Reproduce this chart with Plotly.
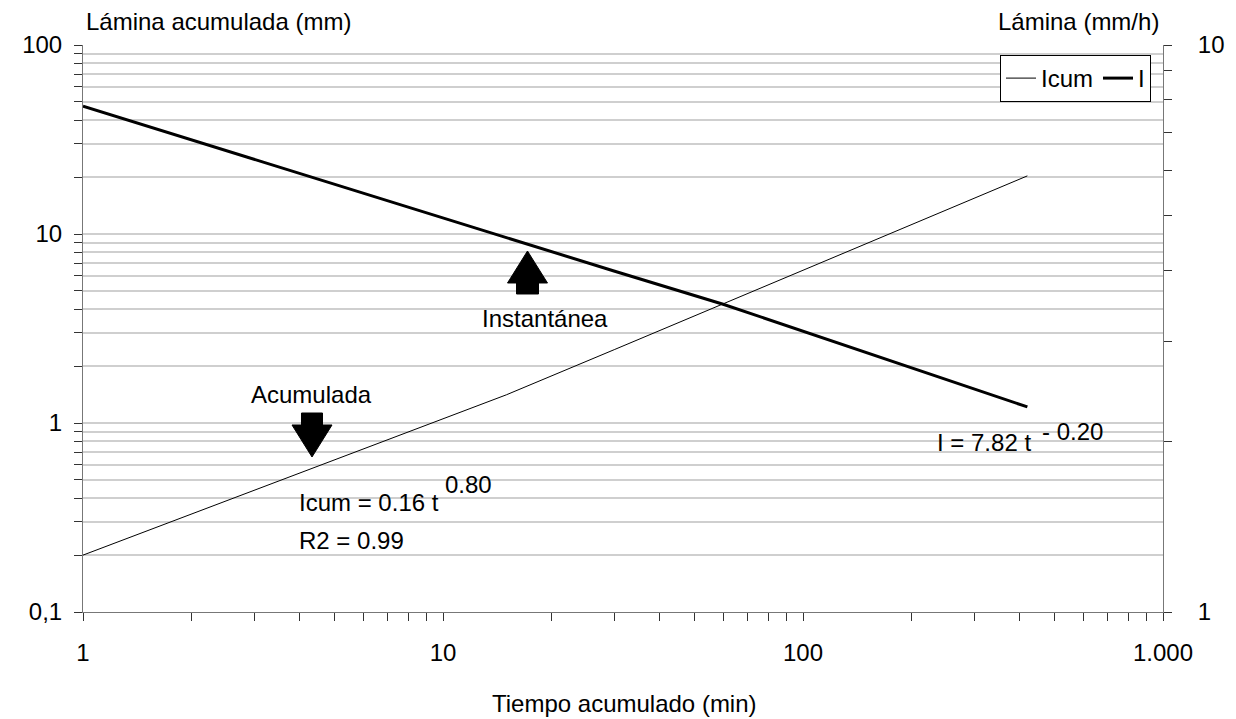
import plotly.graph_objects as go

# Data
tiempo = [1, 15, 30, 60, 120, 240, 420]              # min
icum = [0.20, 1.41, 2.45, 4.27, 7.43, 12.9, 20.3]     # mm (left axis)
inst = [7.80, 4.57, 3.99, 3.49, 3.01, 2.59, 2.30]     # mm/h (right axis)

x_ticks = [1, 2, 3, 4, 5, 6, 7, 8, 9, 10, 20, 30, 40, 50, 60, 70, 80, 90,
           100, 200, 300, 400, 500, 600, 700, 800, 900, 1000]
x_text = ["1"] + [""] * 8 + ["10"] + [""] * 8 + ["100"] + [""] * 8 + ["1.000"]
y_ticks = [0.1, 0.2, 0.3, 0.4, 0.5, 0.6, 0.7, 0.8, 0.9,
           1, 2, 3, 4, 5, 6, 7, 8, 9,
           10, 20, 30, 40, 50, 60, 70, 80, 90, 100]
y_text = ["0,1"] + [""] * 8 + ["1"] + [""] * 8 + ["10"] + [""] * 8 + ["100"]
y2_ticks = [1, 2, 3, 4, 5, 6, 7, 8, 9, 10]
y2_text = ["1"] + [""] * 8 + ["10"]

FONT = "Liberation Sans, Arial, sans-serif"
FS = 24
OFF = 8  # the page body adds an 8px margin around the figure
W, H = 1236 - OFF, 719 - OFF
L, T = 83 - OFF, 45 - OFF
PW, PH = 1080, 567
R, B = W - L - PW, H - T - PH


def px(x, y):
    # page pixel position -> paper coordinates
    return (x - OFF - L) / PW, (T + PH - (y - OFF)) / PH


fig = go.Figure()
fig.add_trace(go.Scatter(x=tiempo, y=icum, name="Icum", mode="lines",
                         line=dict(color="black", width=1)))
fig.add_trace(go.Scatter(x=tiempo, y=inst, name="I", mode="lines", yaxis="y2",
                         line=dict(color="black", width=3)))

axis_common = dict(type="log", ticks="outside", ticklen=8, tickcolor="#333",
                   linecolor="#777", showline=True, zeroline=False,
                   automargin=False,
                   tickfont=dict(size=FS, color="black", family=FONT))
fig.update_layout(
    width=W, height=H,
    margin=dict(l=L, r=R, t=T, b=B, autoexpand=False),
    plot_bgcolor="white", paper_bgcolor="white",
    font=dict(family=FONT, size=FS, color="black"),
    xaxis=dict(axis_common, range=[0, 3], tickvals=x_ticks, ticktext=x_text,
               showgrid=False, ticklabelstandoff=11),
    yaxis=dict(axis_common, range=[-1, 2], tickvals=y_ticks, ticktext=y_text,
               showgrid=True, gridcolor="#cfcfcf", gridwidth=1.5,
               ticklabelstandoff=7),
    yaxis2=dict(axis_common, range=[0, 1], tickvals=y2_ticks, ticktext=y2_text,
                overlaying="y", side="right", showgrid=False,
                ticklabelstandoff=21),
    showlegend=True,
    legend=dict(orientation="h", x=px(1151, 0)[0], y=px(0, 55)[1],
                xanchor="right", yanchor="top", bgcolor="white",
                bordercolor="black", borderwidth=1, itemwidth=30,
                font=dict(size=FS), tracegroupgap=0),
)

# Axis titles
titles = [
    ("Lámina acumulada (mm)", 84, 22, "left"),
    ("Lámina (mm/h)", 1161, 22, "right"),
    ("Tiempo acumulado (min)", 624, 703, "center"),
]
# Labels and equations
labels = [
    ("Instantánea", 545, 318, "center"),
    ("Acumulada", 311, 394, "center"),
    ("Icum = 0.16 t", 297, 502, "left"),
    ("0.80", 443, 484, "left"),
    ("R2 = 0.99", 297, 540, "left"),
    ("I = 7.82 t", 935, 442, "left"),
    ("- 0.20", 1040, 431, "left"),
]
for txt, x, y, anchor in titles + labels:
    ax, ay = px(x, y)
    fig.add_annotation(text=txt, x=ax, y=ay, xref="paper", yref="paper",
                       xanchor=anchor, yanchor="middle", showarrow=False)


# Block arrows
def block_arrow(tip_x, tip_y, base_y, tail_y, head_w, shaft_w):
    pts = [(tip_x, tip_y), (tip_x + head_w / 2, base_y),
           (tip_x + shaft_w / 2, base_y), (tip_x + shaft_w / 2, tail_y),
           (tip_x - shaft_w / 2, tail_y), (tip_x - shaft_w / 2, base_y),
           (tip_x - head_w / 2, base_y)]
    path = "M " + " L ".join(f"{px(x, y)[0]:.5f},{px(x, y)[1]:.5f}"
                             for x, y in pts) + " Z"
    fig.add_shape(type="path", path=path, xref="paper", yref="paper",
                  fillcolor="black", line=dict(color="black", width=1))


block_arrow(527.5, 251, 283, 294, 40, 22)
block_arrow(312, 457, 425, 413, 40, 21)

fig.write_html("out.html")
